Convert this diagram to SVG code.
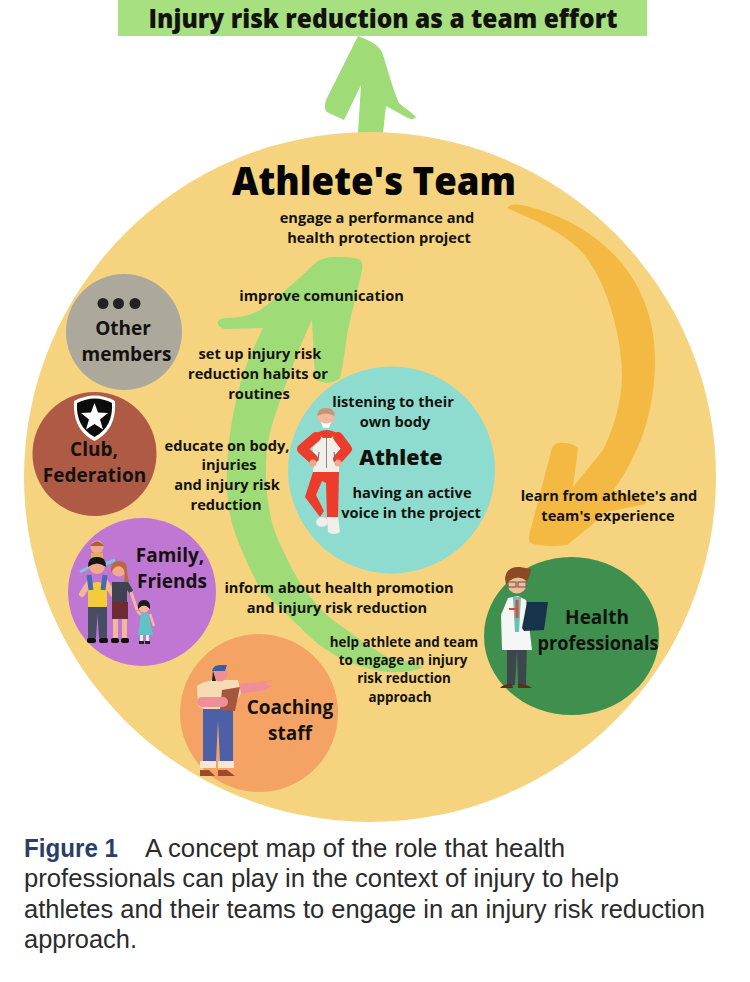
<svg xmlns="http://www.w3.org/2000/svg" width="750" height="982" viewBox="0 0 750 982">
<style>
text{font-family:"Open Sans","DejaVu Sans",sans-serif;font-weight:700;fill:#14120e;text-anchor:middle}
.s{font-size:14.600px}
.t{font-size:13.400px}
.h{font-size:19px}
.cap{font-family:"Liberation Sans",Arial,sans-serif;font-weight:400;font-size:25.600px;fill:#2b2b2b;text-anchor:start}
.sk{fill:#f3a98c}
.w{fill:#f1efe9}
.r{fill:#ec3c2c}
.rs{fill:none;stroke:#ec3c2c;stroke-width:10;stroke-linejoin:round;stroke-linecap:round}
</style>
<rect width="750" height="982" fill="#fff"/>
<g id="connector-top-bg">
<path d="M358 36C368 40 378 44 382 52C388 70 393 90 399 103C404 108 412 112 416 117C415 119 411 120 408 118L386 106L383 133H358L361 85L344 120L327 112C324 109 325 104 326 100Z" fill="#9fdc78"/>
</g>
<g id="team">
<ellipse cx="370" cy="477" rx="346" ry="345" fill="#f6d47f"/>
</g>
<g id="connectors">
<path d="M360 260C363 262 363 268 361 275C355 300 350 320 347 335C345 352 343 365 340 378C334 384 322 384 315 379C314 360 313 340 312 320C300 345 285 385 272 425C265 450 265 470 267 493C270 520 275 535 283 550C292 570 302 588 313 600C325 615 335 622 347 630C360 640 375 650 387 657C400 660 415 662 423 667C418 671 400 673 387 672C370 670 355 665 340 658C325 650 312 640 300 627C282 610 270 600 257 583C248 565 240 548 233 527C228 510 226 490 227 470C228 440 233 410 240 385C247 360 255 345 263 328L226 329C220 328 217 325 218 322C219 319 222 318 228 318C240 318 253 315 263 308C280 295 298 280 313 265C320 258 328 257 336 257C345 257 355 257 360 260Z" fill="#9fdc78"/>
<path d="M507 208C510 204 516 204 522 205C570 216 605 240 627 270C645 295 655 325 655 360C655 400 645 435 633 457C627 470 620 482 613 490L645 500C648 502 645 505 642 505L607 512C595 522 580 535 567 545C555 547 542 546 533 544C530 543 528 540 529 536L552 448C555 443 558 442 563 443C570 443 576 445 578 449L573 487L603 450C614 428 622 400 622 375C622 340 608 280 580 250C560 230 530 218 507 208Z" fill="#f4b942"/>
</g>
<g id="title">
<rect x="118" y="0" width="529" height="36" fill="#a6e080"/>
<text x="383" y="28" font-size="26.500" style="font-weight:800" textLength="469" lengthAdjust="spacingAndGlyphs">Injury risk reduction as a team effort</text>
</g>
<g id="team-label">
<text x="374" y="195" font-size="38" style="font-weight:800;fill:#050505" textLength="284" lengthAdjust="spacingAndGlyphs">Athlete's Team</text>
</g>
<g id="other-members">
<ellipse cx="124" cy="332" rx="58" ry="58" fill="#ada89c"/>
<circle cx="103" cy="303.500" r="5.500" fill="#222"/><circle cx="118.500" cy="303.500" r="5.500" fill="#222"/><circle cx="135" cy="303.500" r="5.500" fill="#222"/>
<text class="h" x="123" y="335">Other</text>
<text class="h" x="126.500" y="361">members</text>
</g>
<g id="club-federation">
<circle cx="94.500" cy="454" r="62" fill="#ae5a45"/>
<path d="M74 401Q95 390 115 401C116 420 110 433 94.500 441C79 433 73 420 74 401Z" fill="#fff"/>
<path d="M77 403Q95 394 112 403C113 419 107 430 94.500 437C82 430 76 419 77 403Z" fill="#0c0c0c"/>
<path d="M94.500 403L98 412.500L108 413L100 419.500L103 429.500L94.500 424L86 429.500L89 419.500L81 413L91 412.500Z" fill="#fff"/>
<text class="h" x="94" y="456">Club,</text>
<text class="h" x="94.500" y="482">Federation</text>
</g>
<g id="family-friends">
<circle cx="142" cy="592" r="74" fill="#bf77d3"/>
<path d="M80 572L93 565M103 565L115 560" stroke="#7fc7d8" stroke-width="3" fill="none"/>
<circle cx="97" cy="547" r="6.500" class="sk"/><path d="M90 546Q97 537 104 546Z" fill="#a8603a"/>
<rect x="91" y="553" width="12" height="9" fill="#e0b040"/>
<circle cx="97" cy="566" r="8" class="sk"/><path d="M88 567Q88 556 97 557Q106 556 106 567Q97 560 88 567Z" fill="#151515"/>
<path d="M82 594L89 583M106 583L113 594" stroke="#f3b897" stroke-width="6" fill="none" stroke-linecap="round"/>
<path d="M88 586Q97 578 107 586V607H88Z" fill="#f3cb3b"/>
<path d="M89 575L91 590M105 575L103 590" stroke="#4769b0" stroke-width="5" fill="none"/>
<path d="M88 607H107V638H99L97.500 614L96 638H88Z" fill="#474d63"/>
<rect x="87" y="638" width="9" height="5" rx="2" fill="#111"/><rect x="99" y="638" width="9" height="5" rx="2" fill="#111"/>
<circle cx="119" cy="569" r="7.500" class="sk"/><path d="M111 572Q110 561 119 561Q128 561 127 572L129 582H124Q127 568 119 566Q113 567 112 572Z" fill="#b6683f"/>
<path d="M112 582H128L133 590L130 594L127 590V602H112Z" fill="#3f4250"/>
<path d="M131 592L137 610" stroke="#f3b897" stroke-width="3"/>
<rect x="112" y="602" width="16" height="17" fill="#6f2b33"/>
<rect x="113" y="619" width="5" height="19" fill="#f3b897"/><rect x="122" y="619" width="5" height="19" fill="#f3b897"/>
<rect x="111" y="638" width="8" height="5" rx="2" fill="#111"/><rect x="121" y="638" width="8" height="5" rx="2" fill="#111"/>
<circle cx="144" cy="607" r="5.500" fill="#f3b897"/><path d="M138 609Q137 600 144 600Q151 600 150 609Q144 602 138 609Z" fill="#1a1a20"/>
<path d="M137 611L141 615M150 614L154 626" stroke="#f3b897" stroke-width="2.500"/>
<path d="M141 613H148L153 635H138Z" fill="#63c3c4"/>
<rect x="140" y="635" width="3" height="6" fill="#f1e9e0"/><rect x="146" y="635" width="3" height="6" fill="#f1e9e0"/>
<rect x="139" y="641" width="5" height="3" fill="#222"/><rect x="145" y="641" width="5" height="3" fill="#222"/>
<text class="h" x="170" y="562">Family,</text>
<text class="h" x="172" y="588">Friends</text>
</g>
<g id="coaching-staff">
<circle cx="259" cy="713" r="79" fill="#f4a364"/>
<path d="M238 684L268 681L273 680L264 684L273 686L265 690L240 694Z" fill="#ee8f98"/>
<path d="M203 709H233V762H220L218 720L216 762H203Z" fill="#4c60a8"/>
<rect x="200" y="761" width="16" height="7" fill="#f4e7d8"/><rect x="218" y="761" width="16" height="7" fill="#f4e7d8"/>
<path d="M200 776V770H209L215 776ZM218 776V770H227L235 776Z" fill="#9a4a30"/>
<path d="M197 686Q204 681 214 680H238L241 693L232 709H204L198 706Z" fill="#f5dcb5"/>
<path d="M222 690L240 687L235 711L220 710Z" fill="#a5563f"/>
<rect x="197" y="697" width="31" height="10" rx="5" fill="#ee8f98"/>
<circle cx="220" cy="674" r="7.500" fill="#ee8f98"/>
<path d="M212 671Q213 665 220 665H227L225 671Z" fill="#3b5e9e"/>
<path d="M213 671L216 681H212Z" fill="#1e2030"/>
<text class="h" x="290" y="714">Coaching</text>
<text class="h" x="290" y="740">staff</text>
</g>
<g id="athlete">
<circle cx="391.500" cy="470" r="103.500" fill="#8edccf"/>
<path d="M313 472H339L338 517H327L326 483L322 481L316 495L324 511L320 517L305 497Z" class="r"/>
<ellipse cx="322" cy="522" rx="6" ry="5" class="w" stroke="#ccc" stroke-width=".5"/>
<path d="M327 517H338L340 532Q334 536 328 532Z" class="w"/>
<rect x="313" y="468" width="26" height="4" class="w"/>
<path d="M312 436L324 432H332L342 436L339 468H314Z" class="w"/>
<path d="M317 433Q326 427 337 433L331 438H323Z" class="r"/>
<path d="M316 437L302 449L313 459M338 437L347 449L338 459" class="rs"/>
<circle cx="313" cy="463" r="3.500" class="sk"/><circle cx="338" cy="463" r="3.500" class="sk"/>
<path d="M319 452L318 461M334 452L335 461" stroke="#666" stroke-width="1"/>
<rect x="326" y="438" width="1" height="30" fill="#888"/>
<circle cx="326" cy="417" r="8.500" fill="#f2b8a0"/><path d="M317.500 416Q317 408 326 408Q335 408 334.500 416Q326 411 317.500 416Z" fill="#c79479"/>
<path d="M321 422Q326 425 331 422L329 428H323Z" fill="#fff"/>
<text class="s" x="393" y="407">listening to their</text>
<text class="s" x="395" y="427">own body</text>
<text x="401" y="465" font-size="21.500" style="font-weight:800">Athlete</text>
<text class="s" x="412" y="498">having an active</text>
<text class="s" x="411" y="518">voice in the project</text>
</g>
<g id="health-professionals">
<ellipse cx="571.500" cy="636" rx="87.500" ry="79" fill="#3f8f4f"/>
<path d="M507 640H527L526 685H518L517 650L515 685H507Z" fill="#3d464c"/>
<path d="M500 688Q503 684 512 684L513 688ZM518 684Q527 684 532 688H518Z" fill="#5c2f1c"/>
<path d="M508 598L518 596L526 600L532 650H502L501 615Z" fill="#f4f6f6"/>
<path d="M513 597H521L519 632H515Z" fill="#63c3b8"/>
<rect x="515.500" y="600" width="3" height="18" fill="#e2493e"/>
<rect x="509" y="608" width="8" height="2" fill="#e2493e"/>
<path d="M527 602H548L544 630L524 631L522 628Z" fill="#173349"/>
<circle cx="517" cy="584" r="9.500" fill="#f2bd92"/>
<path d="M505 578Q507 566 520 567L531 569Q530 577 527 581Q518 574 509 581L506 585Z" fill="#8a4a26"/>
<rect x="508" y="582" width="8" height="5" fill="none" stroke="#555" stroke-width="1"/><rect x="518" y="582" width="8" height="5" fill="none" stroke="#555" stroke-width="1"/>
<text class="h" x="597" y="624">Health</text>
<text class="h" x="598" y="650" textLength="121" lengthAdjust="spacingAndGlyphs">professionals</text>
</g>
<g id="connector-labels">
<text class="s" x="377" y="223">engage a performance and</text>
<text class="s" x="379" y="243">health protection project</text>
<text class="s" x="321.500" y="301">improve comunication</text>
<text class="s" x="260" y="359">set up injury risk</text>
<text class="s" x="258" y="379">reduction habits or</text>
<text class="s" x="259" y="399">routines</text>
<text class="s" x="227" y="451">educate on body,</text>
<text class="s" x="229" y="470">injuries</text>
<text class="s" x="227" y="490">and injury risk</text>
<text class="s" x="226" y="510">reduction</text>
<text class="s" x="339" y="593">inform about health promotion</text>
<text class="s" x="337" y="613">and injury risk reduction</text>
<text class="t" x="404" y="647">help athlete and team</text>
<text class="t" x="403" y="665">to engage an injury</text>
<text class="t" x="404" y="683">risk reduction</text>
<text class="t" x="400" y="702">approach</text>
<text class="s" x="609" y="501">learn from athlete's and</text>
<text class="s" x="608" y="521">team's experience</text>
</g>
<g id="caption">
<text class="cap" x="24" y="857" textLength="94" lengthAdjust="spacingAndGlyphs" style="font-weight:700;fill:#2b3e6b">Figure 1</text>
<text class="cap" x="145" y="857" textLength="420" lengthAdjust="spacingAndGlyphs">A concept map of the role that health</text>
<text class="cap" x="24" y="887" textLength="595" lengthAdjust="spacingAndGlyphs">professionals can play in the context of injury to help</text>
<text class="cap" x="24" y="918" textLength="681" lengthAdjust="spacingAndGlyphs">athletes and their teams to engage in an injury risk reduction</text>
<text class="cap" x="24" y="948" textLength="113" lengthAdjust="spacingAndGlyphs">approach.</text>
</g>
</svg>
